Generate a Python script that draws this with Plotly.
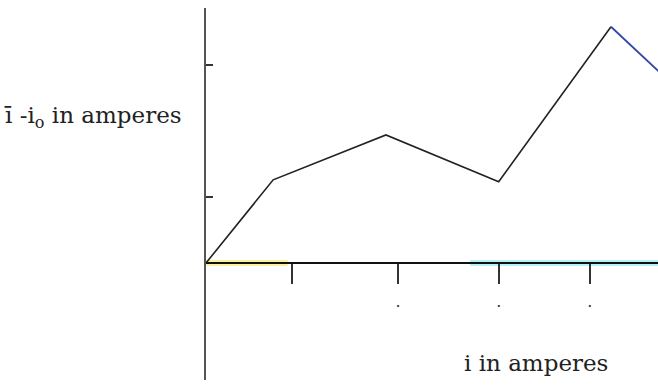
import plotly.graph_objects as go

# Current readings (amperes) for the deviation curve
i_vals = [0.0, 0.70, 1.875, 3.05, 4.22]
dev_vals = [0.0, 1.26, 1.94, 1.23, 3.58]
# final descending segment past the peak
tail_i = [4.22, 4.75]
tail_dev = [3.58, 2.86]

x_ticks = [0.9, 2.0, 3.05, 4.0]
x_labeled = [2.0, 3.05, 4.0]
x_ticktext = ["·", "·", "·"]
y_ticks = [1, 3]

fig = go.Figure()

# faint tinted bands along the current axis
fig.add_trace(go.Scatter(x=[0.0, 0.85], y=[0, 0], mode="lines",
                         line=dict(color="rgba(250,230,80,0.55)", width=6),
                         hoverinfo="skip"))
fig.add_trace(go.Scatter(x=[2.75, 4.71], y=[0, 0], mode="lines",
                         line=dict(color="rgba(120,230,240,0.55)", width=6),
                         hoverinfo="skip"))

fig.add_trace(go.Scatter(x=i_vals, y=dev_vals, mode="lines",
                         line=dict(color="#222222", width=1.6)))
fig.add_trace(go.Scatter(x=tail_i, y=tail_dev, mode="lines",
                         line=dict(color="#3048a8", width=1.8)))

# tiny marks beneath the labelled current ticks
fig.add_trace(go.Scatter(x=x_labeled, y=[0] * len(x_labeled), mode="text",
                         text=x_ticktext, textposition="middle center",
                         textfont=dict(size=16, color="#333333"),
                         yaxis="y2", hoverinfo="skip"))

label_font = dict(size=23, family="DejaVu Serif", color="#222222")

y_lo, y_hi = -(380 - 263) / 66, (263 - 8) / 66

fig.update_layout(
    width=658, height=389,
    margin=dict(l=206, r=0, t=8, b=9),
    plot_bgcolor="white", paper_bgcolor="white",
    showlegend=False,
    font=dict(family="DejaVu Serif", color="#222222"),
    xaxis=dict(range=[0, 4.71], showgrid=False, zeroline=False,
               anchor="free", position=(380 - 263) / (380 - 8),
               showline=True, linecolor="#111111", linewidth=2,
               ticks="outside", ticklen=20, tickwidth=1.6, tickcolor="#333333",
               tickvals=x_ticks, showticklabels=False),
    yaxis=dict(range=[y_lo, y_hi], showgrid=False,
               zeroline=False, showline=True, linecolor="#555555", linewidth=1.5,
               ticks="inside", ticklen=7, tickwidth=1.5, tickcolor="#333333",
               tickvals=y_ticks, showticklabels=False),
    # overlay axis used only to place the small marks below the ticks
    yaxis2=dict(range=[y_lo + 45 / 66, y_hi + 45 / 66], overlaying="y",
                visible=False),
    annotations=[
        dict(text="ī -i<sub>o</sub> in amperes", xref="paper", yref="paper",
             x=-204 / 452, y=1 - (117 - 8) / 372, xanchor="left", yanchor="middle",
             showarrow=False, font=label_font),
        dict(text="i in amperes", xref="paper", yref="paper",
             x=(610 - 206) / 452, y=1 - (363 - 8) / 372, xanchor="right",
             yanchor="middle", showarrow=False, font=label_font),
    ],
)

fig.write_html("out.html")
